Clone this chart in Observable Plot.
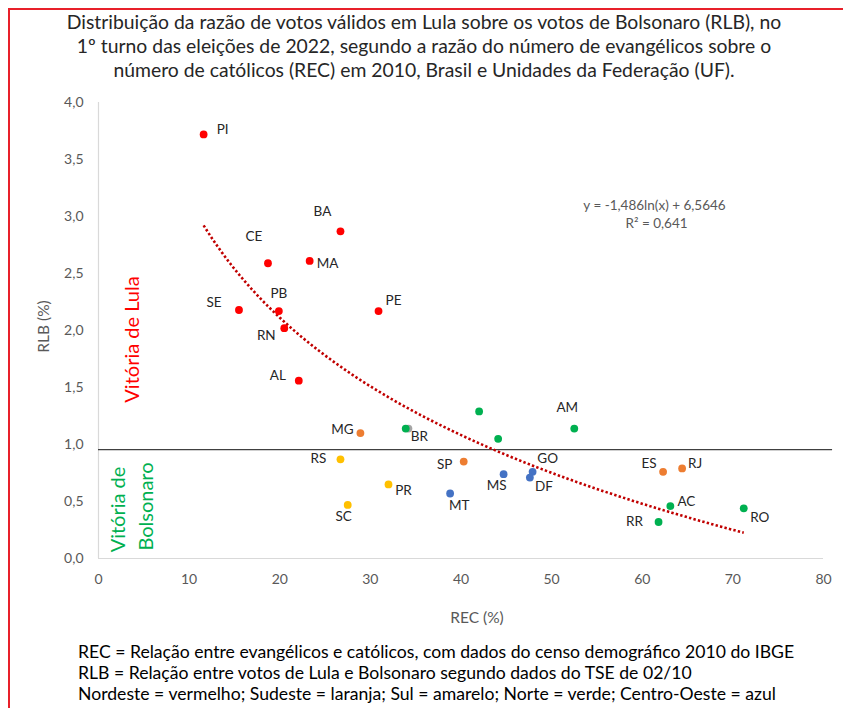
<!DOCTYPE html>
<html>
<head>
<meta charset="utf-8">
<script src="https://cdn.jsdelivr.net/npm/d3@7"></script>
<script src="https://cdn.jsdelivr.net/npm/@observablehq/plot@0.6"></script>
<style>
  body { margin: 0; background: #fff; }
  #frame { position: relative; width: 843px; height: 708px; overflow: hidden; font-family: Lato, "Open Sans", sans-serif; background:#fff; }
  #border { position: absolute; left: 8px; top: 8px; width: 900px; height: 800px; border: 2px solid #E8202A; box-sizing: border-box; }
  #title { position: absolute; left: 0; width: 848px; top: 10px; text-align: center; color: #262626; line-height: 24px; font-size: 18px; white-space: nowrap; }
  #chart { position: absolute; left: 0; top: 88px; }
  #notes { position: absolute; left: 78px; top: 641px; color: #000; line-height: 21px; font-size: 16px; white-space: nowrap; }
  .ln { display: block; }
  .ln span { display: inline-block; }
</style>
</head>
<body>
<div id="frame">
  <div id="border"></div>
  <div id="title">
    <div class="ln"><span id="t1">Distribuição da razão de votos válidos em Lula sobre os votos de Bolsonaro (RLB), no</span></div>
    <div class="ln"><span>1º turno das eleições de 2022, segundo a razão do número de evangélicos sobre o</span></div>
    <div class="ln"><span>número de católicos (REC) em 2010, Brasil e Unidades da Federação (UF).</span></div>
  </div>
  <div id="chart"></div>
  <div id="notes">
    <div class="ln"><span id="n1">REC = Relação entre evangélicos e católicos, com dados do censo demográfico 2010 do IBGE</span></div>
    <div class="ln"><span>RLB = Relação entre votos de Lula e Bolsonaro segundo dados do TSE de 02/10</span></div>
    <div class="ln"><span>Nordeste = vermelho; Sudeste = laranja; Sul = amarelo; Norte = verde; Centro-Oeste = azul</span></div>
  </div>
</div>
<script>
// ---- Data ----
const uf     = ["PI","BA","CE","MA","SE","PB","RN","PE","AL","MG","SP","ES","RJ","RS","PR","SC","BR","","","","AM","AC","RR","RO","MT","MS","GO","DF"];
const rec    = [11.6,26.7,18.7,23.3,15.5,19.9,20.5,30.9,22.1,28.9,40.3,62.3,64.4,26.7,32.0,27.5,34.2,33.9,42.0,44.1,52.5,63.1,61.8,71.2,38.8,44.7,47.9,47.6];
const rlb    = [3.72,2.87,2.59,2.61,2.18,2.17,2.02,2.17,1.56,1.10,0.85,0.76,0.79,0.87,0.65,0.47,1.14,1.14,1.29,1.05,1.14,0.46,0.32,0.44,0.57,0.74,0.76,0.71];
const region = ["Nordeste","Nordeste","Nordeste","Nordeste","Nordeste","Nordeste","Nordeste","Nordeste","Nordeste",
                "Sudeste","Sudeste","Sudeste","Sudeste","Sul","Sul","Sul","Brasil",
                "Norte","Norte","Norte","Norte","Norte","Norte","Norte",
                "Centro-Oeste","Centro-Oeste","Centro-Oeste","Centro-Oeste"];
const regions      = ["Nordeste","Sudeste","Sul","Norte","Centro-Oeste","Brasil"];
const regionColors = ["#FF0000","#ED7D31","#FFC000","#00B050","#4472C4","#A5A5A5"];
const xTicks = [0,10,20,30,40,50,60,70,80];
const yTicks = [0,0.5,1,1.5,2,2.5,3,3.5,4];
// trend line printed on the chart: y = -1,486 ln(x) + 6,5646 ; R² = 0,641
const trendA = -1.486, trendB = 6.5646;
const equationText = ["y = -1,486ln(x) + 6,5646", "R² = 0,641"];
const threshold = 0.955; // horizontal divider drawn on the chart

// ---- label placement (pixel offsets from each dot) ----
const labelOffsets = {
  PI:[19,-5], BA:[-18,-20], CE:[-14,-27], MA:[18,3], SE:[-25,-7], PB:[0,-17], RN:[-18,7],
  PE:[15,-10], AL:[-21,-5], MG:[-18,-3], BR:[11,8], RS:[-22,-1], SP:[-19,3], PR:[15,6],
  SC:[-4,12], MT:[9,12], AM:[-7,-21], GO:[15,-13], MS:[-7,12], DF:[14,9], ES:[-14,-8],
  RJ:[13,-5], AC:[16,-4], RR:[-24,0], RO:[16,9]
};

const rows = uf.map((u, i) => ({uf: u, rec: rec[i], rlb: rlb[i], region: region[i]}));
const labelled = rows.filter(d => d.uf !== "");

const x0 = d3.min(rec), x1 = d3.max(rec), n = 120;
const trend = d3.range(n + 1).map(i => {
  const x = x0 + (x1 - x0) * i / n;
  return {x, y: trendA * Math.log(x) + trendB};
});

const fmtY = d => d.toFixed(1).replace(".", ",");
const labelColor = "#262626";

const chart = Plot.plot({
  width: 843,
  height: 547,
  marginTop: 14,
  marginBottom: 77,
  marginLeft: 98,
  marginRight: 20,
  x: {domain: [0, 80]},
  y: {domain: [0, 4]},
  color: {domain: regions, range: regionColors},
  style: {fontFamily: "Lato, 'Open Sans', sans-serif", fontSize: "14px", color: "#595959", background: "transparent", overflow: "visible"},
  marks: [
    Plot.ruleX([0], {stroke: "#D9D9D9", strokeWidth: 1.2}),
    Plot.ruleY([0], {stroke: "#D9D9D9", strokeWidth: 1.2}),
    Plot.axisX({ticks: xTicks, tickSize: 0, tickPadding: 16, label: null, fontSize: 14, tickFormat: d => String(d)}),
    Plot.axisY({ticks: yTicks, tickSize: 0, tickPadding: 15, label: null, fontSize: 14, tickFormat: fmtY}),
    Plot.ruleY([threshold], {x1: 0, x2: 81, stroke: "#404040", strokeWidth: 1.4}),
    Plot.line(trend, {x: "x", y: "y", stroke: "#C00000", strokeWidth: 2.6, strokeDasharray: "2.4,2.2", strokeLinecap: "butt"}),
    Plot.dot(rows, {x: "rec", y: "rlb", fill: "region", r: 3.9, stroke: "none"}),
    Plot.text(labelled, {x: "rec", y: "rlb", text: "uf", fill: labelColor, fontSize: 13.5}),
    // axis titles
    Plot.text(["REC (%)"], {frameAnchor: "bottom", textAnchor: "middle", lineAnchor: "middle", dx: 16, dy: 60, fill: "#595959", fontSize: 15.5}),
    Plot.text(["RLB (%)"], {frameAnchor: "left", textAnchor: "middle", lineAnchor: "middle", rotate: -90, dx: -54, dy: -4, fill: "#595959", fontSize: 15.5}),
    // region annotations
    Plot.text(["Vitória de Lula"], {frameAnchor: "left", textAnchor: "middle", lineAnchor: "middle", rotate: -90, dx: 34, dy: 9, fill: "#FF0000", fontSize: 20}),
    Plot.text(["Vitória de"], {frameAnchor: "left", textAnchor: "middle", lineAnchor: "middle", rotate: -90, dx: 20, dy: 179, fill: "#00B050", fontSize: 20}),
    Plot.text(["Bolsonaro"], {frameAnchor: "left", textAnchor: "middle", lineAnchor: "middle", rotate: -90, dx: 48.5, dy: 176, fill: "#00B050", fontSize: 20}),
    // trend equation
    Plot.text([equationText[0]], {frameAnchor: "top-left", textAnchor: "middle", lineAnchor: "middle", dx: 556, dy: 103, fill: "#595959", fontSize: 13.5}),
    Plot.text([equationText[1]], {frameAnchor: "top-left", textAnchor: "middle", lineAnchor: "middle", dx: 558, dy: 121, fill: "#595959", fontSize: 13.5})
  ]
});
document.getElementById("chart").appendChild(chart);

// apply per-label pixel offsets to the state labels
{
  const svg = d3.select(chart);
  svg.selectAll("g").each(function() {
    const texts = d3.select(this).selectAll(":scope > text");
    if (texts.size() === labelled.length && texts.nodes()[0].textContent === labelled[0].uf) {
      texts.each(function(_, i) {
        const off = labelOffsets[labelled[i].uf] || [0, 0];
        const el = d3.select(this);
        const t = el.attr("transform") || "";
        el.attr("transform", t + ` translate(${off[0]},${off[1]})`);
      });
    }
  });
}

// fit title/notes widths to the reference
function fit(id, target, sel) {
  const el = document.getElementById(id);
  const w = el.getBoundingClientRect().width;
  const box = document.getElementById(sel);
  const fs = parseFloat(getComputedStyle(box).fontSize);
  box.style.fontSize = (fs * target / w).toFixed(2) + "px";
}
fit("t1", 715, "title");
fit("n1", 717, "notes");
</script>
</body>
</html>
